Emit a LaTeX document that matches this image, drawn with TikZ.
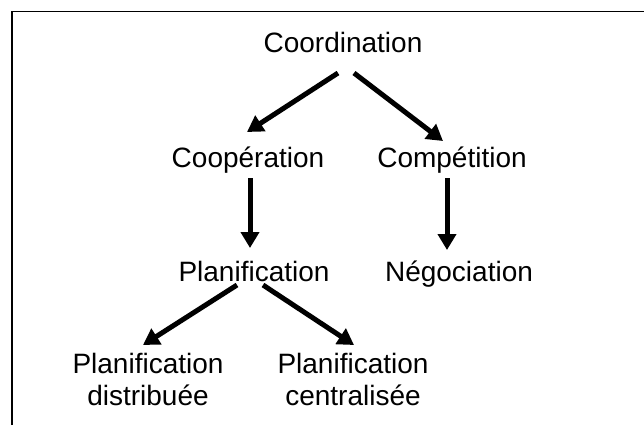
\documentclass[tikz,border=0pt]{standalone}
\usepackage{fontspec}
\setmainfont{Liberation Sans}
\usetikzlibrary{arrows.meta,calc}

\begin{document}
\begin{tikzpicture}[x=0.5pt,y=-0.5pt,
  lbl/.style={font=\fontsize{14}{16}\selectfont,anchor=base,inner sep=0pt,align=center},
  arr/.style={line width=2.5pt,-{Triangle[length=8pt,width=9pt]}}]
\useasboundingbox (0,0) rectangle (644,425);
\draw [line width=0.65pt] (12,425) -- (12,11.5) -- (644,11.5);
\node[lbl] (coord) at (343,52) {Coordination};
\node[lbl] (coop) at (248,167) {Coopération};
\node[lbl] (comp) at (452,167) {Compétition};
\node[lbl] (plan) at (254,281) {Planification};
\node[lbl] (nego) at (459,281) {Négociation};
\node[lbl] (pdist) at (148,405) {Planification\\distribuée};
\node[lbl] (pcent) at (353,405) {Planification\\centralisée};
\draw [arr] ($(coord.base)+(-5,21)$) -- ($(coop.base)+(-1,-35)$);
\draw [arr] ($(coord.base)+(11,21)$) -- ($(comp.base)+(-9,-26)$);
\draw [arr] ($(coop.base)+(2,11)$) -- ($(plan.base)+(-4,-33)$);
\draw [arr] ($(comp.base)+(-5,11)$) -- ($(nego.base)+(-12,-31)$);
\draw [arr] ($(plan.base)+(-17,4)$) -- ($(pdist.base)+(-5,-60)$);
\draw [arr] ($(plan.base)+(9,4)$) -- ($(pcent.base)+(1,-60)$);
\end{tikzpicture}
\end{document}
